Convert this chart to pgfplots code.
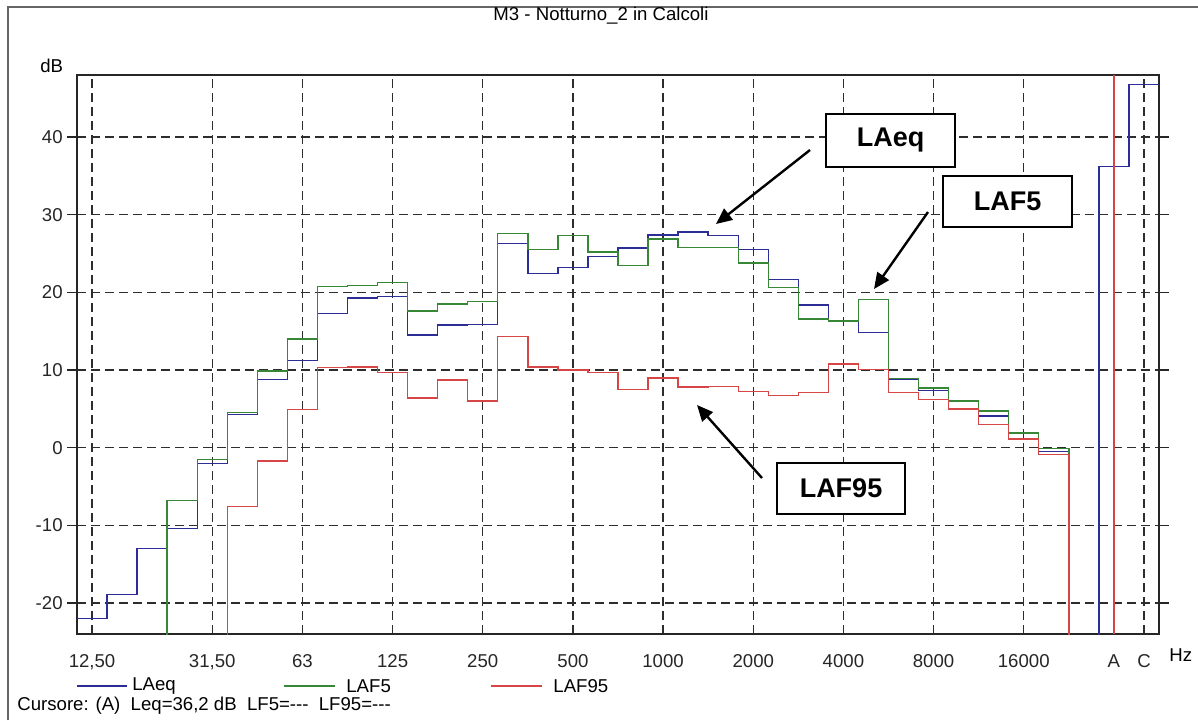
\documentclass[border=0pt]{standalone}
\usepackage{fontspec}
\setmainfont{Liberation Sans}
\usepackage{pgfplots}
\pgfplotsset{compat=1.18}
\usepackage{pgfplotstable}
\usetikzlibrary{arrows.meta}

\definecolor{cblue}{RGB}{45,45,150}
\definecolor{cgreen}{RGB}{55,135,55}
\definecolor{cred}{RGB}{215,70,70}
\definecolor{cgrid}{RGB}{45,45,45}

\newcommand{\sm}{\fontsize{9.3}{11}\selectfont}

% band index i (0 = 12.5 Hz ... 32 = 20000 Hz, 34 = A, 35 = C); -40 = below the chart
\pgfplotstableread{
i  laeq   laf5   laf95
0  -22.0  -40    -40
1  -18.9  -40    -40
2  -13.0  -40    -40
3  -10.4  -6.8   -40
4  -2.0   -1.5   -40
5   4.3    4.5   -7.6
6   8.8    9.9   -1.7
7  11.2   14.0    4.9
8  17.3   20.8   10.3
9  19.3   20.9   10.4
10 19.5   21.3    9.7
11 14.5   17.6    6.4
12 15.8   18.5    8.7
13 15.9   18.8    6.0
14 26.3   27.6   14.3
15 22.4   25.5   10.4
16 23.2   27.3   10.0
17 24.6   25.2    9.7
18 25.7   23.5    7.5
19 27.4   26.9    9.0
20 27.8   25.8    7.8
21 27.3   25.8    7.9
22 25.5   23.8    7.2
23 21.7   20.6    6.7
24 18.4   16.6    7.1
25 16.3   16.3   10.8
26 14.8   19.1   10.1
27  8.8    8.9    7.1
28  7.4    7.7    6.2
29  6.0    6.0    5.0
30  4.1    4.7    3.0
31  1.8    1.9    1.1
32 -0.5   -0.1   -0.9
33 -40    -40    -40
34 36.2   nan    nan
35 46.8   nan    nan
36 46.8   nan    nan
}\spectrum

\begin{document}
\begin{tikzpicture}
\begin{axis}[
  at={(38.5pt,-317pt)}, anchor=south west,
  scale only axis, width=541pt, height=279.5pt,
  xmin=-0.5, xmax=35.5, ymin=-24, ymax=48,
  xtick={0,4,7,10,13,16,19,22,25,28,31,34,35},
  xticklabels={{12,50},{31,50},63,125,250,500,1000,2000,4000,8000,16000,A,C},
  ytick={-20,-10,0,10,20,30,40},
  yticklabels={-20,-10,0,10,20,30,40},
  grid=major,
  major grid style={cgrid, line width=0.7pt, dash pattern=on 4.5pt off 2.5pt},
  axis line style={line width=0.65pt, black!85},
  tick label style={font=\sm, text=black!85},
  xtick style={draw=none},
  ytick style={line width=0.65pt, black!85},
  tick align=outside, major tick length=5pt,
  xticklabel style={anchor=north, inner sep=0pt, yshift=-5pt},
  yticklabel style={anchor=east, inner sep=0pt, xshift=-2pt},
]
\addplot[cblue, line width=0.7pt, const plot mark left] table[x expr=\thisrow{i}-0.5, y=laeq] {\spectrum};
\addplot[cgreen, line width=0.7pt, const plot mark left] table[x expr=\thisrow{i}-0.5, y=laf5] {\spectrum};
\addplot[cred, line width=0.7pt, const plot mark left] table[x expr=\thisrow{i}-0.5, y=laf95] {\spectrum};
% cursor at band A
\addplot[cred, line width=0.7pt] coordinates {(34,-24) (34,48)};
\end{axis}

\begin{scope}[x=0.5pt, y=-0.5pt]
  \path[use as bounding box] (0,0) rectangle (1198,720);
  \draw[black!60, line width=0.6pt] (8,720) -- (8,7) -- (1198,7);
  \node[font=\sm] at (601,16) {M3 - Notturno\_2 in Calcoli};
  \node[font=\sm, anchor=west, inner sep=0pt] at (40,66) {dB};
  \node[font=\sm, anchor=west, inner sep=0pt] at (1169,655) {Hz};
  % legend
  \draw[cblue, line width=0.7pt] (77,686) -- (127,686);
  \node[font=\sm, anchor=west, inner sep=0pt] at (132,686) {LAeq};
  \draw[cgreen, line width=0.7pt] (284,686) -- (335,686);
  \node[font=\sm, anchor=west, inner sep=0pt] at (346,686) {LAF5};
  \draw[cred, line width=0.7pt] (491,686) -- (542,686);
  \node[font=\sm, anchor=west, inner sep=0pt] at (553,686) {LAF95};
  \node[font=\sm, anchor=west, inner sep=0pt] at (17,706)
     {Cursore: (A)\ \ Leq=36,2 dB\ \ LF5=-{}-{}-\ \ LF95=-{}-{}-};
  % annotation boxes
  \draw[line width=1pt, fill=white] (826,114) rectangle (955,167);
  \node[font=\bfseries\fontsize{13.5}{15}\selectfont] at (890.5,140.5) {LAeq};
  \draw[line width=1pt, fill=white] (943,176) rectangle (1072,227);
  \node[font=\bfseries\fontsize{13.5}{15}\selectfont] at (1007.5,201.5) {LAF5};
  \draw[line width=1pt, fill=white] (777,463) rectangle (905,514);
  \node[font=\bfseries\fontsize{13.5}{15}\selectfont] at (841,488.5) {LAF95};
  % arrows
  \draw[line width=1.2pt, -{Triangle[length=8pt,width=7pt]}] (810,150) -- (716,224);
  \draw[line width=1.2pt, -{Triangle[length=8pt,width=7pt]}] (928,212) -- (874,289);
  \draw[line width=1.2pt, -{Triangle[length=8pt,width=7pt]}] (762,478) -- (697,405);
\end{scope}
\end{tikzpicture}
\end{document}
